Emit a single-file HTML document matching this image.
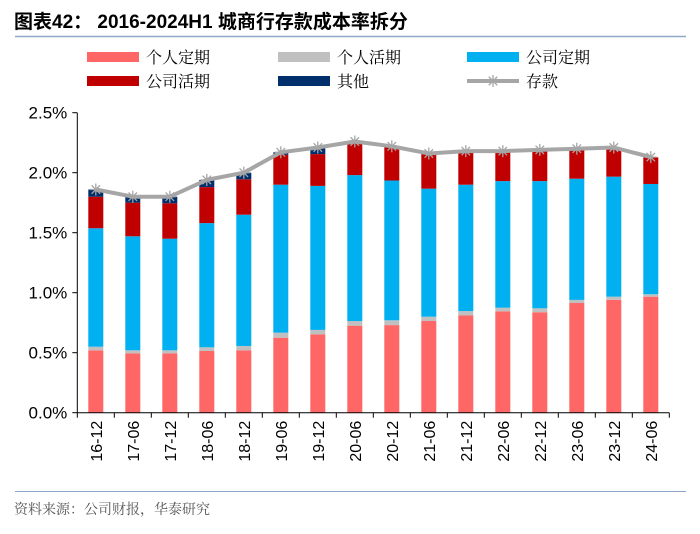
<!DOCTYPE html>
<html><head><meta charset="utf-8"><style>
body{margin:0;background:#fff;width:700px;height:529px;overflow:hidden;font-family:"Liberation Sans","Noto Sans CJK SC",sans-serif;}
</style></head><body>
<svg width="700" height="529" xmlns="http://www.w3.org/2000/svg">
<text x="14" y="28" font-size="19" font-weight="bold" fill="#000" font-family="Liberation Sans, Noto Sans CJK SC, sans-serif">图表42： 2016-2024H1 城商行存款成本率拆分</text>
<line x1="15" y1="36.5" x2="686" y2="36.5" stroke="#8fa8c8" stroke-width="1.5"/>
<g id="legend" font-size="16" font-family="Liberation Serif, Noto Serif CJK SC, serif"></g>
<g id="grid"></g>
<g id="bars"></g>
<g id="line"></g>
<g id="axes"></g>
<line x1="15" y1="491.5" x2="686" y2="491.5" stroke="#8fa8c8" stroke-width="1"/>
<text x="14" y="514" font-size="14" fill="#555" font-family="Liberation Serif, Noto Serif CJK SC, serif">资料来源：公司财报，华泰研究</text>
</svg>
<script>
const categories=["16-12","17-06","17-12","18-06","18-12","19-06","19-12","20-06","20-12","21-06","21-12","22-06","22-12","23-06","23-12","24-06"];
const personalTime=[0.52,0.495,0.495,0.514,0.52,0.625,0.653,0.725,0.73,0.764,0.81,0.845,0.837,0.914,0.94,0.967];
const personalDemand=[0.03,0.025,0.025,0.031,0.036,0.042,0.037,0.039,0.04,0.036,0.037,0.03,0.033,0.026,0.027,0.02];
const corporateTime=[0.987,0.95,0.93,1.035,1.094,1.233,1.2,1.216,1.165,1.067,1.053,1.055,1.06,1.01,1.0,0.919];
const corporateDemand=[0.263,0.28,0.295,0.3,0.295,0.25,0.265,0.27,0.28,0.288,0.275,0.245,0.25,0.24,0.233,0.222];
const others=[0.06,0.05,0.055,0.06,0.055,0.02,0.055,0.01,0.005,0.005,0.005,0.005,0.0,0.0,0.0,0.0];
const deposits=[1.86,1.80,1.80,1.94,2.00,2.17,2.21,2.26,2.22,2.16,2.18,2.18,2.19,2.20,2.21,2.13];
const yTicks=[0,0.5,1.0,1.5,2.0,2.5];
const yTickLabels=["0.0%","0.5%","1.0%","1.5%","2.0%","2.5%"];
const seriesNames=["个人定期","个人活期","公司定期","公司活期","其他","存款"];
const colors=["#ff6666","#c0c0c0","#00b0f0","#c00000","#002f6c","#a6a6a6"];
const NS="http://www.w3.org/2000/svg";
const X0=77.3,BAND=37,BW=15,Y0=412.7,PPU=120;
const xc=i=>X0+BAND*(i+0.5);
const y=v=>Y0-v*PPU;
function mk(tag,attrs,parent){const e=document.createElementNS(NS,tag);for(const k in attrs)e.setAttribute(k,attrs[k]);parent.appendChild(e);return e;}
const bars=document.getElementById('bars'),axes=document.getElementById('axes'),lineG=document.getElementById('line'),legend=document.getElementById('legend');
const stacks=[personalTime,personalDemand,corporateTime,corporateDemand,others];
const keys=["personal-time","personal-demand","corporate-time","corporate-demand","others"];
categories.forEach((c,i)=>{let base=0;stacks.forEach((s,k)=>{const v=s[i];if(v>0){const r=mk('rect',{x:xc(i)-BW/2,y:y(base+v),width:BW,height:v*PPU,fill:colors[k]},bars);

}base+=v;});});
let d="";deposits.forEach((v,i)=>{d+=(i?"L":"M")+xc(i)+" "+y(v);});
const pl=mk('path',{d:d,fill:"none",stroke:colors[5],"stroke-width":4,"stroke-linejoin":"round"},lineG);


function star(cx,cy,r,g,name){const s=mk('g',{stroke:"#a6a6a6","stroke-width":1.3},g);


for(let a=0;a<4;a++){const t=a*Math.PI/4;mk('line',{x1:cx-r*Math.cos(t),y1:cy-r*Math.sin(t),x2:cx+r*Math.cos(t),y2:cy+r*Math.sin(t)},s);}}
deposits.forEach((v,i)=>star(xc(i),y(v),6,lineG,'deposit-point-'+categories[i]));
const ya=mk('line',{x1:X0,y1:y(2.5),x2:X0,y2:Y0,stroke:"#000","stroke-width":1},axes);


const xa=mk('line',{x1:X0,y1:Y0,x2:X0+BAND*categories.length,y2:Y0,stroke:"#000","stroke-width":1},axes);


yTicks.forEach((v,i)=>{mk('line',{x1:X0-5,y1:y(v),x2:X0,y2:y(v),stroke:"#000"},axes);
const t=mk('text',{x:X0-10,y:y(v)+6,"text-anchor":"end","font-size":17,fill:"#000"},axes);t.textContent=yTickLabels[i];

});
for(let i=0;i<=categories.length;i++)mk('line',{x1:X0+BAND*i,y1:Y0,x2:X0+BAND*i,y2:Y0+5,stroke:"#000"},axes);
categories.forEach((c,i)=>{const t=mk('text',{x:0,y:0,"text-anchor":"end","font-size":16,fill:"#000",transform:`translate(${xc(i)+6},${Y0+8}) rotate(-90)`},axes);t.textContent=c;

});
const lx=[87,278,467],ly=[57,81];
seriesNames.forEach((n,k)=>{const cx=lx[k%3],cy=ly[Math.floor(k/3)];const g=mk('g',{},legend);


if(k<5)mk('rect',{x:cx,y:cy-5,width:52,height:10,fill:colors[k]},g);
else{mk('line',{x1:cx,y1:cy,x2:cx+52,y2:cy,stroke:colors[5],"stroke-width":4},g);star(cx+26,cy,6,g,'legend-star');}
const t=mk('text',{x:cx+59,y:cy+6,fill:"#000"},g);t.textContent=n;});
</script>
</body></html>
